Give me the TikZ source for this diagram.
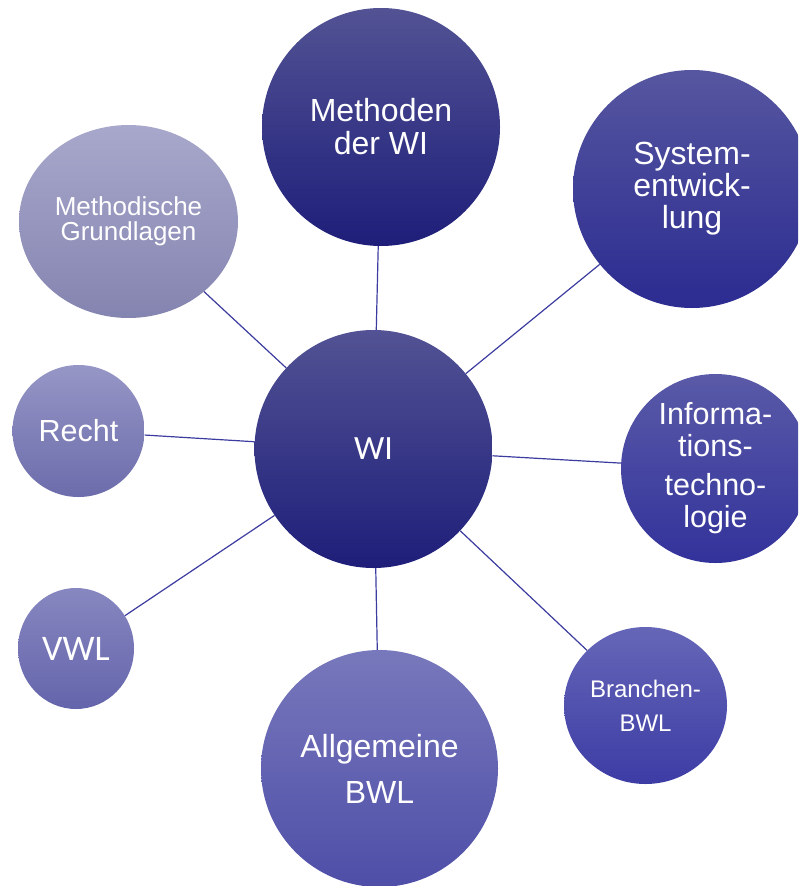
\documentclass[tikz,border=0pt]{standalone}
\usepackage{fontspec}
\setmainfont{Liberation Sans}
\newfontfamily\calfont{Carlito}
\usetikzlibrary{shapes.geometric}
\definecolor{lnc}{RGB}{60,60,160}
\definecolor{wiT}{RGB}{82,82,148}\definecolor{wiB}{RGB}{30,30,122}
\definecolor{syT}{RGB}{86,86,160}\definecolor{syB}{RGB}{43,43,145}
\definecolor{itT}{RGB}{90,90,168}\definecolor{itB}{RGB}{50,50,155}
\definecolor{brT}{RGB}{102,102,184}\definecolor{brB}{RGB}{60,60,165}
\definecolor{abT}{RGB}{120,120,188}\definecolor{abB}{RGB}{78,78,168}
\definecolor{vwT}{RGB}{135,135,192}\definecolor{vwB}{RGB}{100,100,172}
\definecolor{reT}{RGB}{150,150,198}\definecolor{reB}{RGB}{108,108,172}
\definecolor{mgT}{RGB}{168,168,204}\definecolor{mgB}{RGB}{132,132,176}
\tikzset{
  bubble/.style={circle, inner sep=0pt, text=white, align=center},
  oval/.style={ellipse, inner sep=0pt, text=white, align=center},
  link/.style={draw=lnc, line width=1.2pt},
}
\begin{document}
\begin{tikzpicture}[x=1pt,y=-1pt]
\useasboundingbox (0,0) rectangle (798,886);
\clip (0,0) rectangle (798,886);
\node[bubble, minimum size=238pt, top color=wiT, bottom color=wiB,
  font=\calfont\fontsize{34}{36}\selectfont] (wi) at (373.5,449) {WI};
\node[bubble, minimum size=238pt, top color=wiT, bottom color=wiB,
  font=\fontsize{32}{33}\selectfont] (meth) at (381,127) {Methoden\\der WI};
\node[bubble, minimum size=238pt, top color=syT, bottom color=syB,
  font=\fontsize{32}{32}\selectfont] (sys) at (692,189) {System-\\entwick-\\lung};
\node[bubble, minimum size=189pt, top color=itT, bottom color=itB,
  font=\fontsize{30.5}{32}\selectfont] (it) at (715.5,468.5) {Informa-\\tions-\\[7pt]techno-\\logie};
\node[oval, minimum width=163pt, minimum height=157pt, top color=brT, bottom color=brB,
  font=\fontsize{24}{34}\selectfont] (br) at (645.5,705.5) {Branchen-\\BWL};
\node[bubble, minimum size=237pt, top color=abT, bottom color=abB,
  font=\fontsize{32}{46}\selectfont] (ab) at (379.5,768.5) {Allgemeine\\BWL};
\node[oval, minimum width=116pt, minimum height=121pt, top color=vwT, bottom color=vwB,
  font=\calfont\fontsize{36}{38}\selectfont] (vwl) at (76,648.5) {VWL};
\node[bubble, minimum size=132pt, top color=reT, bottom color=reB,
  font=\fontsize{30.5}{32}\selectfont] (re) at (78.5,431) {Recht};
\node[oval, minimum width=219pt, minimum height=193pt, top color=mgT, bottom color=mgB,
  font=\fontsize{26}{25}\selectfont] (mg) at (128.5,221.5) {Methodische\\Grundlagen};
\foreach \n in {meth,sys,it,br,ab,vwl,re,mg}
  \draw[link] (wi) -- (\n);
\end{tikzpicture}
\end{document}
